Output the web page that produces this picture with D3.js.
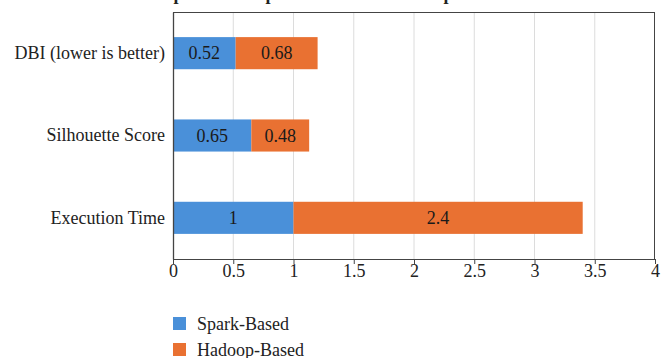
<!DOCTYPE html>
<html><head><meta charset="utf-8">
<script src="https://cdn.jsdelivr.net/npm/d3@7"></script>
<style>body{margin:0;background:#fff;} svg{display:block;}</style>
</head><body>
<svg id="c" width="667" height="358"></svg>
<script>
const categories = ["DBI (lower is better)", "Silhouette Score", "Execution Time"];
const sparkValues = [0.52, 0.65, 1];
const hadoopValues = [0.68, 0.48, 2.4];
const seriesNames = ["Spark-Based", "Hadoop-Based"];
const xTicks = [0, 0.5, 1, 1.5, 2, 2.5, 3, 3.5, 4];
const titleText = "Comparison of Spark-Based and Hadoop-Based";

const colors = ["#4a90d9", "#e97132"];
const font = "'Liberation Serif', 'Times New Roman', serif";
const fs = 18;
const svg = d3.select("#c");
const m = {left: 173, right: 655, top: 12, bottom: 259};

const x = d3.scaleLinear().domain([0, 4]).range([m.left, m.right]);
const y = d3.scaleBand().domain(categories).range([m.top, m.bottom]).paddingInner(0.61).paddingOuter(0.305);

// title (cut off at top as in the reference: only descenders visible)
svg.append("text").attr("x", 321).attr("y", -0.5).attr("text-anchor", "middle")
  .attr("font-family", font).attr("font-weight", "bold").attr("font-size", 18)
  .attr("fill", "#222").text(titleText);

// gridlines
svg.append("g").selectAll("line").data(xTicks.slice(1, -1)).join("line")
  .attr("x1", d => x(d)).attr("x2", d => x(d)).attr("y1", m.top).attr("y2", m.bottom)
  .attr("stroke", "#dcdcdc").attr("stroke-width", 1);

// frame
svg.append("line").attr("x1", m.left).attr("x2", m.right).attr("y1", m.top + 0.5).attr("y2", m.top + 0.5).attr("stroke", "#444");
svg.append("line").attr("x1", m.right - 0.5).attr("x2", m.right - 0.5).attr("y1", m.top).attr("y2", m.bottom).attr("stroke", "#444");

// stacked data
const rows = categories.map((c, i) => ({cat: c, spark: sparkValues[i], hadoop: hadoopValues[i]}));
const stack = d3.stack().keys(["spark", "hadoop"])(rows);

stack.forEach((layer, li) => {
  const g = svg.append("g");
  g.selectAll("rect").data(layer).join("rect")
    .attr("x", d => x(d[0])).attr("width", d => x(d[1]) - x(d[0]))
    .attr("y", d => y(d.data.cat)).attr("height", y.bandwidth())
    .attr("fill", colors[li]);
  g.selectAll("text").data(layer).join("text")
    .attr("x", d => (x(d[0]) + x(d[1])) / 2).attr("y", d => y(d.data.cat) + y.bandwidth() / 2 + 6)
    .attr("text-anchor", "middle").attr("font-family", font).attr("font-size", fs).attr("fill", "#1a1a1a")
    .text(d => String(+(d[1] - d[0]).toFixed(2)));
});

// axes
const xAxis = svg.append("g").attr("transform", `translate(0,${m.bottom})`)
  .call(d3.axisBottom(x).tickValues(xTicks).tickSize(5).tickFormat(d => String(d)));
xAxis.select(".domain").attr("stroke", "#444");
xAxis.selectAll(".tick line").attr("stroke", "#444");
xAxis.selectAll("text").attr("font-family", font).attr("font-size", fs).attr("fill", "#222").attr("dy", "0.71em").attr("y", 5);

const yAxis = svg.append("g").attr("transform", `translate(${m.left},0)`)
  .call(d3.axisLeft(y).tickSize(0).tickPadding(8));
yAxis.select(".domain").attr("stroke", "#444").attr("stroke-width", 1.3);
yAxis.selectAll("text").attr("font-family", font).attr("font-size", fs).attr("fill", "#222");

// legend
const lg = svg.append("g");
seriesNames.forEach((n, i) => {
  lg.append("rect").attr("x", 173).attr("y", 317 + i * 26).attr("width", 13).attr("height", 13).attr("fill", colors[i]);
  lg.append("text").attr("x", 197).attr("y", 330 + i * 26).attr("font-family", font).attr("font-size", fs).attr("fill", "#222").text(n);
});
</script>
</body></html>
